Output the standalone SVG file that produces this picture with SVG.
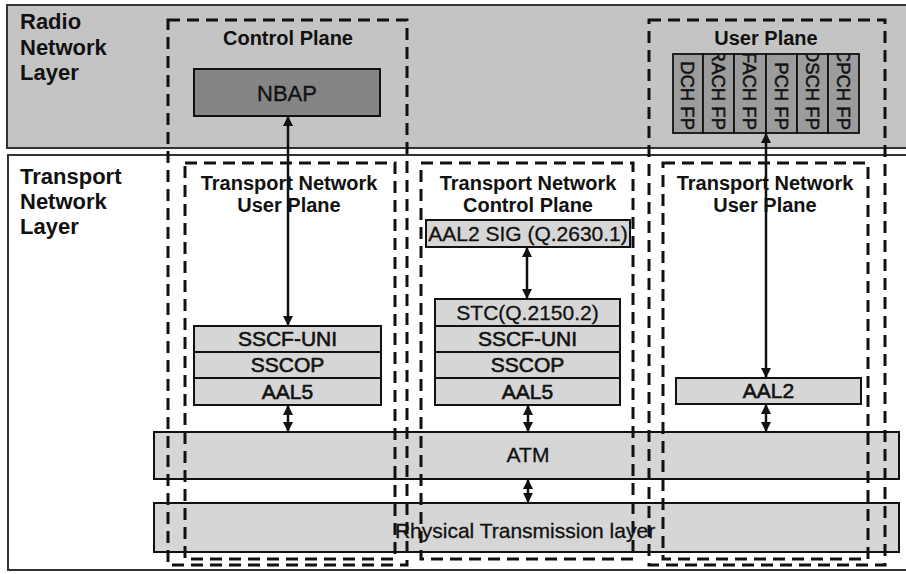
<svg xmlns="http://www.w3.org/2000/svg" width="906" height="574" viewBox="0 0 906 574">
<style>
text{font-family:"Liberation Sans",Arial,sans-serif;fill:#111}
.lbl{font-size:22px;font-weight:bold}
.ttl{font-size:20px;font-weight:bold;text-anchor:middle}
.t{font-size:21px;text-anchor:middle;stroke:#111;stroke-width:0.3}
.tb{font-size:21px;text-anchor:middle;stroke:#111;stroke-width:0.6}
.box{fill:#d6d6d6;stroke:#111;stroke-width:2}
.dash{fill:none;stroke:#111;stroke-width:3;stroke-dasharray:12 7}
.arr{stroke:#111;stroke-width:2.5;marker-start:url(#ah);marker-end:url(#ah)}
.fp{fill:#9c9c9c;stroke:#111;stroke-width:1.8}
.fpt{font-size:18.5px;text-anchor:end;stroke:#111;stroke-width:0.5}
</style>
<defs>
<marker id="ah" viewBox="0 0 10 10" refX="9" refY="5" markerWidth="11" markerHeight="10" markerUnits="userSpaceOnUse" orient="auto-start-reverse">
<path d="M0,0 L10,5 L0,10 z" fill="#111"/>
</marker>
<clipPath id="fpclip"><rect x="673" y="54" width="186" height="79"/></clipPath>
</defs>

<g id="radio-layer">
<rect x="7" y="5" width="905" height="143" fill="#c4c4c4" stroke="#333" stroke-width="2"/>
<text class="lbl" x="20" y="29">Radio</text>
<text class="lbl" x="20" y="55">Network</text>
<text class="lbl" x="20" y="80">Layer</text>
</g>

<g id="transport-layer">
<rect x="8" y="155" width="904" height="415" fill="#ffffff" stroke="#333" stroke-width="2"/>
<text class="lbl" x="20" y="184">Transport</text>
<text class="lbl" x="20" y="209">Network</text>
<text class="lbl" x="20" y="234">Layer</text>
</g>

<g id="nbap">
<rect x="194" y="69" width="186" height="47" fill="#858585" stroke="#111" stroke-width="2"/>
<text class="t" x="287" y="101" style="font-size:22px">NBAP</text>
</g>

<g id="fp-block">
<rect class="fp" x="673" y="54" width="30" height="79"/>
<rect class="fp" x="703" y="54" width="31" height="79"/>
<rect class="fp" x="734" y="54" width="32" height="79"/>
<rect class="fp" x="766" y="54" width="31" height="79" fill="#b0b0b0"/>
<rect class="fp" x="797" y="54" width="31" height="79"/>
<rect class="fp" x="828" y="54" width="31" height="79"/>
<g clip-path="url(#fpclip)">
<text class="fpt" transform="translate(681.4,130) rotate(90)">DCH FP</text>
<text class="fpt" transform="translate(711.9,130) rotate(90)">RACH FP</text>
<text class="fpt" transform="translate(743.4,130) rotate(90)">FACH FP</text>
<text class="fpt" transform="translate(774.9,130) rotate(90)">PCH FP</text>
<text class="fpt" transform="translate(805.9,130) rotate(90)">DSCH FP</text>
<text class="fpt" transform="translate(836.9,130) rotate(90)">CPCH FP</text>
</g>
</g>

<g id="aal2sig">
<rect class="box" x="426" y="220" width="204" height="27" fill="#d0d0d0"/>
<text class="t" x="528" y="241">AAL2 SIG (Q.2630.1)</text>
</g>

<g id="cp-stack">
<rect class="box" x="435" y="299" width="185" height="27"/>
<text class="t" x="527.5" y="320">STC(Q.2150.2)</text>
<rect class="box" x="435" y="326" width="185" height="26"/>
<text class="tb" x="527.5" y="346">SSCF-UNI</text>
<rect class="box" x="435" y="352" width="185" height="26"/>
<text class="tb" x="527.5" y="372">SSCOP</text>
<rect class="box" x="435" y="378" width="185" height="27"/>
<text class="tb" x="527.5" y="399">AAL5</text>
</g>

<g id="up-stack-left">
<rect class="box" x="194" y="326" width="187" height="26"/>
<text class="tb" x="287.5" y="346">SSCF-UNI</text>
<rect class="box" x="194" y="352" width="187" height="26"/>
<text class="tb" x="287.5" y="372">SSCOP</text>
<rect class="box" x="194" y="378" width="187" height="27"/>
<text class="tb" x="287.5" y="399">AAL5</text>
</g>

<g id="aal2">
<rect class="box" x="676" y="378" width="185" height="26"/>
<text class="tb" x="768.5" y="398">AAL2</text>
</g>

<g id="atm">
<rect class="box" x="154" y="432" width="745" height="47" fill="#d9d9d9"/>
<text class="t" x="528" y="462">ATM</text>
</g>

<g id="physical">
<rect class="box" x="154" y="503" width="745" height="49" fill="#d9d9d9"/>
<text class="t" x="525" y="538">Rhysical Transmission layer</text>
</g>

<g id="planes">
<rect class="dash" x="168" y="20" width="239" height="545"/>
<text class="ttl" x="288" y="45">Control Plane</text>
<rect class="dash" x="649" y="20" width="236" height="545"/>
<text class="ttl" x="766" y="45">User Plane</text>
<rect class="dash" x="185" y="163" width="210" height="396"/>
<text class="ttl" x="289" y="190">Transport Network</text>
<text class="ttl" x="289" y="212">User Plane</text>
<rect class="dash" x="421" y="163" width="212" height="396"/>
<text class="ttl" x="528" y="190">Transport Network</text>
<text class="ttl" x="528" y="212">Control Plane</text>
<rect class="dash" x="663" y="163" width="205" height="396"/>
<text class="ttl" x="765" y="190">Transport Network</text>
<text class="ttl" x="765" y="212">User Plane</text>
</g>

<g id="connectors">
<line class="arr" x1="288" y1="117" x2="288" y2="325"/>
<line class="arr" x1="288" y1="406" x2="288" y2="431"/>
<line class="arr" x1="527" y1="248" x2="527" y2="298"/>
<line class="arr" x1="528" y1="406" x2="528" y2="431"/>
<line class="arr" x1="528" y1="480" x2="528" y2="502"/>
<line class="arr" x1="766" y1="134" x2="766" y2="377"/>
<line class="arr" x1="766" y1="405" x2="766" y2="431"/>
</g>
</svg>
